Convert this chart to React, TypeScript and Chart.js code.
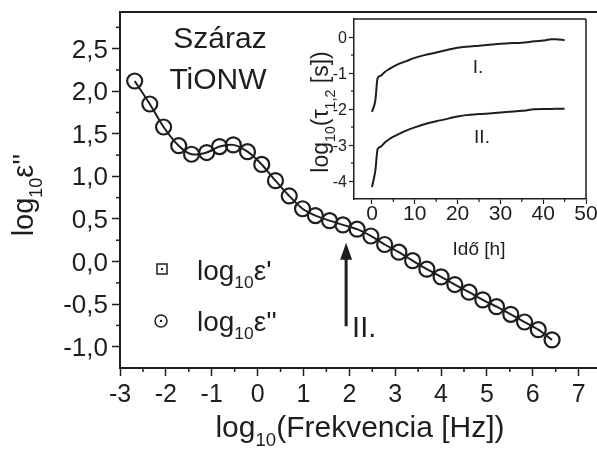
import React, { useEffect, useRef } from "react";
import { Chart, registerables } from "chart.js";

Chart.register(...registerables);

const FONT = '"Liberation Sans", Arial, Helvetica, sans-serif';
const INK = "#1e1e1e";

// ---- main chart data: log10 frequency vs log10 eps''
const logFreq = [-2.68, -2.35, -2.05, -1.72, -1.44, -1.11, -0.83, -0.53, -0.22, 0.09, 0.39, 0.69, 0.98, 1.26, 1.57, 1.86, 2.17, 2.47, 2.77, 3.08, 3.38, 3.69, 4.0, 4.3, 4.61, 4.91, 5.21, 5.52, 5.82, 6.12, 6.42];
const logEpsLoss = [2.12, 1.85, 1.58, 1.36, 1.26, 1.28, 1.35, 1.37, 1.29, 1.14, 0.95, 0.77, 0.62, 0.54, 0.48, 0.43, 0.38, 0.3, 0.2, 0.11, 0.01, -0.09, -0.18, -0.27, -0.36, -0.45, -0.53, -0.62, -0.71, -0.8, -0.92];

const mainXTicks = [-3, -2, -1, 0, 1, 2, 3, 4, 5, 6, 7];
const mainXMinor = [-2.5, -1.5, -0.5, 0.5, 1.5, 2.5, 3.5, 4.5, 5.5, 6.5];
const mainYTicks = [-1, -0.5, 0, 0.5, 1, 1.5, 2, 2.5];
const mainYMinor = [-0.75, -0.25, 0.25, 0.75, 1.25, 1.75, 2.25, 2.75];

// arrow marking relaxation II (data coordinates)
const arrowX = 1.93;
const arrowFromY = -0.76;
const arrowToY = 0.22;

// ---- inset data: time [h] vs log10(tau)
const timeH = [0, 0.8, 1.3, 2, 3, 4, 5, 6, 8, 10, 12, 15, 18, 20, 22, 25, 28, 30, 33, 35, 38, 40, 42, 43, 45];
const logTau1 = [-2.08, -1.75, -1.15, -1.08, -0.97, -0.89, -0.82, -0.76, -0.67, -0.58, -0.51, -0.43, -0.35, -0.3, -0.27, -0.24, -0.21, -0.19, -0.17, -0.16, -0.12, -0.1, -0.06, -0.06, -0.09];
const logTau2 = [-4.17, -3.7, -3.12, -3.05, -2.93, -2.84, -2.77, -2.71, -2.6, -2.51, -2.43, -2.34, -2.26, -2.21, -2.17, -2.14, -2.12, -2.1, -2.07, -2.05, -2.01, -2.0, -2.0, -1.99, -1.99];

const insetXTicks = [0, 10, 20, 30, 40, 50];
const insetXMinor = [5, 15, 25, 35, 45];
const insetYTicks = [-4, -3, -2, -1, 0];
const insetYMinor = [-3.5, -2.5, -1.5, -0.5];

type Part = { t: string; k?: "sub" | "sup" };

function partSize(p: Part, size: number) {
  return p.k ? size * 0.62 : size;
}

function drawRich(ctx: CanvasRenderingContext2D, parts: Part[], x: number, y: number, size: number, align: "left" | "center") {
  let total = 0;
  for (const p of parts) {
    ctx.font = `${partSize(p, size)}px ${FONT}`;
    total += ctx.measureText(p.t).width;
  }
  let cx = align === "center" ? x - total / 2 : x;
  ctx.textAlign = "left";
  ctx.textBaseline = "alphabetic";
  for (const p of parts) {
    ctx.font = `${partSize(p, size)}px ${FONT}`;
    const dy = p.k === "sub" ? size * 0.3 : p.k === "sup" ? -size * 0.42 : 0;
    ctx.fillText(p.t, cx, y + dy);
    cx += ctx.measureText(p.t).width;
  }
}

function line(ctx: CanvasRenderingContext2D, x0: number, y0: number, x1: number, y1: number) {
  ctx.beginPath();
  ctx.moveTo(x0, y0);
  ctx.lineTo(x1, y1);
  ctx.stroke();
}

const mainDecor = {
  id: "mainDecor",
  afterDraw(chart: any) {
    const { ctx, chartArea, scales } = chart;
    const { left, top, right, bottom } = chartArea;
    const xs = scales.x;
    const ys = scales.y;
    ctx.save();
    ctx.strokeStyle = INK;
    ctx.lineWidth = 2;
    line(ctx, left - 1, top, right, top);
    ctx.lineWidth = 1.5;
    mainXMinor.forEach((v) => {
      const px = xs.getPixelForValue(v);
      line(ctx, px, bottom, px, bottom + 4);
    });
    mainYMinor.forEach((v) => {
      const py = ys.getPixelForValue(v);
      line(ctx, left - 4, py, left, py);
    });

    // tick labels
    ctx.fillStyle = INK;
    ctx.textBaseline = "alphabetic";
    ctx.font = `25px ${FONT}`;
    ctx.textAlign = "center";
    mainXTicks.forEach((v) => {
      ctx.fillText(String(v), xs.getPixelForValue(v), bottom + 34);
    });
    ctx.font = `26px ${FONT}`;
    ctx.textAlign = "right";
    mainYTicks.forEach((v) => {
      ctx.fillText(v.toFixed(1).replace(".", ","), left - 12, ys.getPixelForValue(v) + 9);
    });

    ctx.textAlign = "center";
    ctx.font = `30px ${FONT}`;
    ctx.fillText("Száraz", 220, 48);
    ctx.fillText("TiONW", 218, 89);

    // legend
    ctx.lineWidth = 1.5;
    ctx.strokeRect(157, 264, 10, 10);
    ctx.beginPath();
    ctx.arc(162, 269, 1.2, 0, Math.PI * 2);
    ctx.fill();
    ctx.beginPath();
    ctx.arc(161, 321, 6, 0, Math.PI * 2);
    ctx.stroke();
    ctx.beginPath();
    ctx.arc(161, 321, 1.2, 0, Math.PI * 2);
    ctx.fill();
    drawRich(ctx, [{ t: "log" }, { t: "10", k: "sub" }, { t: "ε'" }], 197, 280, 28, "left");
    drawRich(ctx, [{ t: "log" }, { t: "10", k: "sub" }, { t: "ε''" }], 197, 331, 28, "left");

    // arrow
    const ax = xs.getPixelForValue(arrowX);
    const ay0 = ys.getPixelForValue(arrowFromY);
    const ay1 = ys.getPixelForValue(arrowToY);
    ctx.lineWidth = 3;
    line(ctx, ax, ay0, ax, ay1 + 14);
    ctx.beginPath();
    ctx.moveTo(ax, ay1);
    ctx.lineTo(ax - 6, ay1 + 17);
    ctx.lineTo(ax + 6, ay1 + 17);
    ctx.closePath();
    ctx.fill();
    ctx.font = `29px ${FONT}`;
    ctx.textAlign = "left";
    ctx.fillText("II.", ax + 6, ay0 + 11);

    // axis titles
    drawRich(ctx, [{ t: "log" }, { t: "10", k: "sub" }, { t: "(Frekvencia [Hz])" }], 360, 437, 30, "center");
    ctx.translate(33, 195);
    ctx.rotate(-Math.PI / 2);
    drawRich(ctx, [{ t: "log" }, { t: "10", k: "sub" }, { t: "ε''" }], 0, 0, 29, "center");
    ctx.restore();
  },
};

const insetDecor = {
  id: "insetDecor",
  afterDraw(chart: any) {
    const { ctx, chartArea, scales } = chart;
    const { left, top, right, bottom } = chartArea;
    const xs = scales.x;
    const ys = scales.y;
    ctx.save();
    ctx.strokeStyle = INK;
    ctx.lineWidth = 1.5;
    line(ctx, left, top, right, top);
    line(ctx, right, top, right, bottom);
    ctx.lineWidth = 1.2;
    insetXMinor.forEach((v) => {
      const px = xs.getPixelForValue(v);
      line(ctx, px, bottom, px, bottom + 3);
    });
    insetYMinor.forEach((v) => {
      const py = ys.getPixelForValue(v);
      line(ctx, left - 3, py, left, py);
    });
    ctx.fillStyle = INK;
    ctx.textBaseline = "alphabetic";
    ctx.font = `21px ${FONT}`;
    ctx.textAlign = "center";
    insetXTicks.forEach((v) => {
      ctx.fillText(String(v), xs.getPixelForValue(v), bottom + 21);
    });
    ctx.font = `16px ${FONT}`;
    ctx.textAlign = "right";
    insetYTicks.forEach((v) => {
      ctx.fillText(String(v), left - 7, ys.getPixelForValue(v) + 6);
    });

    ctx.textAlign = "center";
    ctx.font = `19px ${FONT}`;
    ctx.fillText("I.", 178, 73);
    ctx.fillText("II.", 182, 143);
    ctx.fillText("Idő [h]", 179, 255);
    ctx.translate(28, 112);
    ctx.rotate(-Math.PI / 2);
    drawRich(ctx, [{ t: "log" }, { t: "10", k: "sub" }, { t: "(τ" }, { t: "1,2", k: "sub" }, { t: " [s])" }], 0, 0, 23, "center");
    ctx.restore();
  },
};

export default function App() {
  const mainRef = useRef<HTMLCanvasElement>(null);
  const insetRef = useRef<HTMLCanvasElement>(null);

  useEffect(() => {
    const tickGrid = (len: number, w: number) => ({
      display: true,
      drawOnChartArea: false,
      drawTicks: true,
      tickLength: len,
      tickWidth: w,
      tickColor: INK,
    });

    const mainChart = new Chart(mainRef.current!, {
      type: "scatter",
      data: {
        datasets: [
          {
            data: logFreq.map((x, i) => ({ x, y: logEpsLoss[i] })),
            showLine: true,
            tension: 0.25,
            borderColor: INK,
            borderWidth: 2,
            pointRadius: 7.5,
            pointBorderWidth: 2.2,
            pointBackgroundColor: "rgba(0,0,0,0)",
            pointBorderColor: INK,
          },
        ],
      },
      options: {
        animation: false,
        responsive: false,
        devicePixelRatio: 1,
        events: [],
        layout: { autoPadding: false, padding: { top: 12, right: 0, left: 0, bottom: 0 } },
        plugins: { legend: { display: false }, tooltip: { enabled: false } },
        scales: {
          x: {
            type: "linear",
            min: -3,
            max: 7.4,
            afterBuildTicks: (s: any) => {
              s.ticks = mainXTicks.map((value) => ({ value }));
            },
            afterFit: (s: any) => {
              s.height = 91;
            },
            ticks: { display: false, padding: 0 },
            grid: tickGrid(8, 1.5),
            border: { display: true, color: INK, width: 2 },
          },
          y: {
            type: "linear",
            min: -1.25,
            max: 2.93,
            afterBuildTicks: (s: any) => {
              s.ticks = mainYTicks.map((value) => ({ value }));
            },
            afterFit: (s: any) => {
              s.width = 120;
            },
            ticks: { display: false, padding: 0 },
            grid: tickGrid(8, 1.5),
            border: { display: true, color: INK, width: 2 },
          },
        },
      },
      plugins: [mainDecor],
    } as any);

    const insetChart = new Chart(insetRef.current!, {
      type: "scatter",
      data: {
        datasets: [
          {
            data: timeH.map((x, i) => ({ x, y: logTau1[i] })),
            showLine: true,
            cubicInterpolationMode: "monotone",
            borderColor: INK,
            borderWidth: 2,
            pointRadius: 0,
          },
          {
            data: timeH.map((x, i) => ({ x, y: logTau2[i] })),
            showLine: true,
            cubicInterpolationMode: "monotone",
            borderColor: INK,
            borderWidth: 2,
            pointRadius: 0,
          },
        ],
      },
      options: {
        animation: false,
        responsive: false,
        devicePixelRatio: 1,
        events: [],
        layout: { autoPadding: false, padding: { top: 19, right: 11, left: 0, bottom: 0 } },
        plugins: { legend: { display: false }, tooltip: { enabled: false } },
        scales: {
          x: {
            type: "linear",
            min: -4.2,
            max: 50,
            afterBuildTicks: (s: any) => {
              s.ticks = insetXTicks.map((value) => ({ value }));
            },
            afterFit: (s: any) => {
              s.height = 66;
            },
            ticks: { display: false, padding: 0 },
            grid: tickGrid(5, 1.2),
            border: { display: true, color: INK, width: 1.5 },
          },
          y: {
            type: "linear",
            min: -4.5,
            max: 0.5,
            afterBuildTicks: (s: any) => {
              s.ticks = insetYTicks.map((value) => ({ value }));
            },
            afterFit: (s: any) => {
              s.width = 54;
            },
            ticks: { display: false, padding: 0 },
            grid: tickGrid(5, 1.2),
            border: { display: true, color: INK, width: 1.5 },
          },
        },
      },
      plugins: [insetDecor],
    } as any);

    return () => {
      mainChart.destroy();
      insetChart.destroy();
    };
  }, []);

  return (
    <div style={{ position: "absolute", left: 0, top: 0, width: 597, height: 459, background: "#fff", overflow: "hidden" }}>
      <canvas ref={mainRef} width={597} height={459} style={{ position: "absolute", left: 0, top: 0, width: 597, height: 459 }} />
      <canvas ref={insetRef} width={297} height={265} style={{ position: "absolute", left: 300, top: 0, width: 297, height: 265 }} />
    </div>
  );
}
